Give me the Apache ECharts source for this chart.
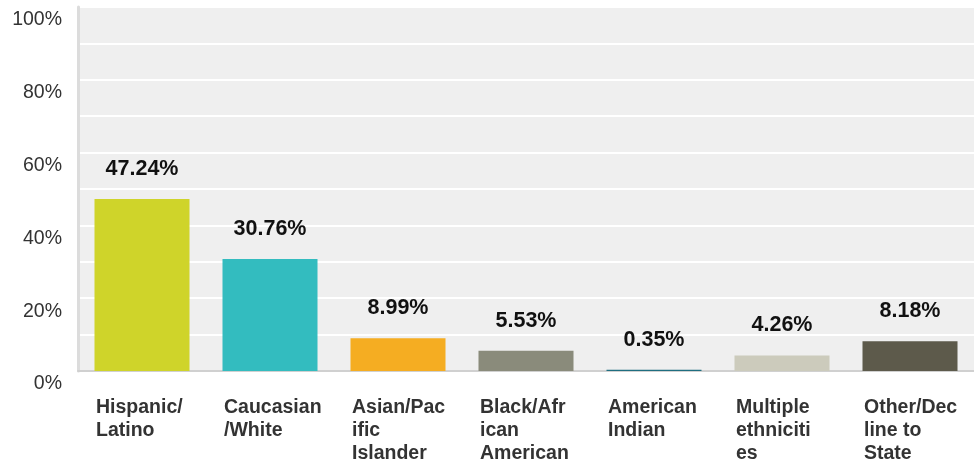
<!DOCTYPE html>
<html>
<head>
<meta charset="utf-8">
<style>
  html, body { margin: 0; padding: 0; background: #fff; }
  #main { width: 974px; height: 466px; }
</style>
<script src="https://cdn.jsdelivr.net/npm/echarts@6/dist/echarts.min.js"></script>
</head>
<body>
<div id="main"></div>
<script>
// categories and values
const categories = ["Hispanic/Latino", "Caucasian/White", "Asian/Pacific Islander",
  "Black/African American", "American Indian", "Multiple ethnicities", "Other/Decline to State"];
// tick labels as wrapped in the picture
const tickLabels = ["Hispanic/\nLatino", "Caucasian\n/White", "Asian/Pac\nific\nIslander",
  "Black/Afr\nican\nAmerican", "American\nIndian", "Multiple\nethniciti\nes", "Other/Dec\nline to\nState"];
const values = [47.24, 30.76, 8.99, 5.53, 0.35, 4.26, 8.18];
const barColors = ["#cfd42a", "#33bcbf", "#f5ad22", "#8a8b7b", "#1f6e80", "#cccbbc", "#5d5a4b"];
const yTicks = [0, 20, 40, 60, 80, 100];

const FONT = "'Liberation Sans', Arial, sans-serif";

const chartDom = document.getElementById("main");
const myChart = echarts.init(chartDom);

const option = {
  animation: false,
  grid: {
    left: 78,
    right: 0,
    top: 7,
    bottom: 95,
    show: true,
    backgroundColor: "#efefef",
    borderWidth: 0,
  },
  xAxis: {
    type: "category",
    data: categories,
    axisTick: { show: false },
    axisLine: { show: true, lineStyle: { color: "#d0d0d0", width: 2 } },
    axisLabel: {
      interval: 0,
      margin: 25,
      formatter: (v, i) => "{a|" + tickLabels[i].split("\n").join("}\n{a|") + "}",
      rich: {
        a: {
          width: 92,
          align: "left",
          fontFamily: FONT,
          fontWeight: "bold",
          fontSize: 19.5,
          lineHeight: 23,
          color: "#333333",
        },
      },
    },
  },
  yAxis: {
    type: "value",
    min: 0,
    max: 100,
    interval: 20,
    axisLine: { show: true, lineStyle: { color: "#dcdcdc", width: 3 } },
    axisTick: { show: false },
    axisLabel: {
      margin: 16,
      verticalAlign: "top",
      padding: [3, 0, 0, 0],
      formatter: (v) => (yTicks.includes(v) ? v + "%" : ""),
      fontFamily: FONT,
      fontSize: 19.5,
      color: "#333333",
    },
    splitLine: { show: true, lineStyle: { color: "#ffffff", width: 2 } },
    minorTick: { show: false, splitNumber: 2 },
    minorSplitLine: { show: true, lineStyle: { color: "#ffffff", width: 2 } },
  },
  series: [
    {
      type: "bar",
      barWidth: 95,
      data: values.map((v, i) => ({ value: v, itemStyle: { color: barColors[i] } })),
      label: {
        show: true,
        position: "top",
        distance: 19,
        formatter: (p) => p.value.toFixed(2) + "%",
        fontFamily: FONT,
        fontWeight: "bold",
        fontSize: 21.5,
        color: "#111111",
      },
    },
  ],
};

option && myChart.setOption(option);
</script>
</body>
</html>
